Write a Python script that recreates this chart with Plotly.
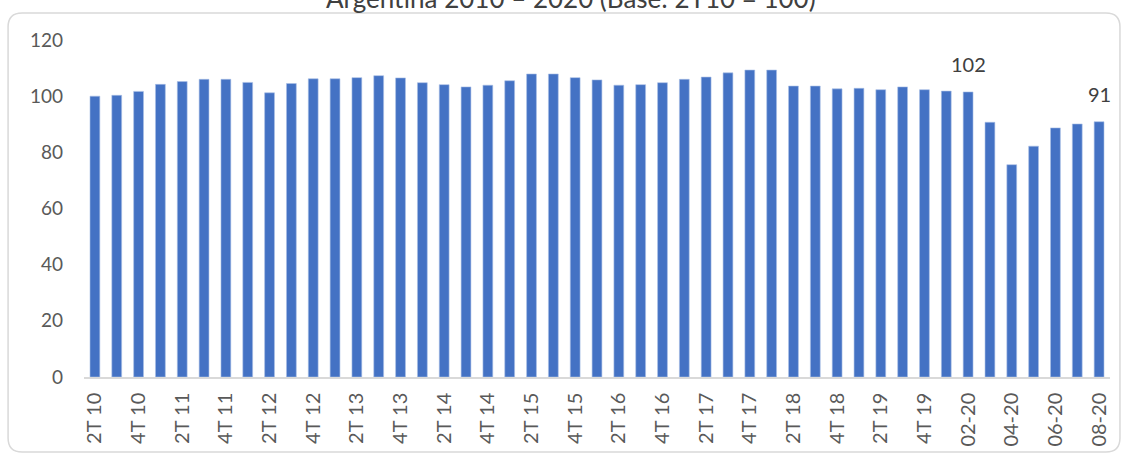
import plotly.graph_objects as go

# categories: quarters 2T10..4T19, then months 01-20..08-20
quarters = [f"{q}T {y}" for y in range(10, 20) for q in (1, 2, 3, 4)][1:]
months = ["01-20", "02-20", "03-20", "04-20", "05-20", "06-20", "07-20", "08-20"]
categories = quarters + months

values = [
    100.0, 100.3, 101.7, 104.2, 105.2, 106.0, 106.0, 104.9, 101.2, 104.5,
    106.2, 106.2, 106.6, 107.3, 106.5, 104.8, 104.1, 103.3, 103.9, 105.5,
    107.9, 107.9, 106.6, 105.8, 103.9, 104.1, 104.8, 106.0, 106.8, 108.3,
    109.3, 109.3, 103.6, 103.6, 102.6, 102.8, 102.3, 103.3, 102.3, 101.8,
    101.5, 90.7, 75.6, 82.2, 88.7, 90.1, 90.9,
]

# only two bars carry a value label
labelled = {"02-20": "102", "08-20": "91"}

tick_labels = categories[::2]
y_ticks = [0, 20, 40, 60, 80, 100, 120]

font = "Lato, 'Open Sans', sans-serif"

fig = go.Figure(
    go.Bar(
        x=categories,
        y=values,
        marker=dict(color="#4472C4", line=dict(color="#a9bfe6", width=0.6)),
        hoverinfo="x+y",
    )
)

for cat, txt in labelled.items():
    fig.add_annotation(
        x=cat, y=values[categories.index(cat)], text=txt,
        showarrow=False, yanchor="bottom", yshift=14,
        font=dict(family=font, size=20, color="#404040"),
    )

# title sits above the chart frame and is partly cut by the page edge
fig.add_annotation(
    x=0.4747, y=1.071, xref="paper", yref="paper",
    text="Argentina 2010 – 2020 (Base: 2T10 = 100)",
    showarrow=False, xanchor="center", yanchor="bottom",
    font=dict(family=font, size=26, color="#404040"),
)

# rounded chart frame (paper units differ in x and y, so two radii)
x0, x1, y0, y1 = -0.074, 1.0097, -0.2226, 1.08
rx, ry = 14 / 1026, 14 / 337
frame = (
    f"M {x0+rx},{y1} L {x1-rx},{y1} Q {x1},{y1} {x1},{y1-ry} "
    f"L {x1},{y0+ry} Q {x1},{y0} {x1-rx},{y0} "
    f"L {x0+rx},{y0} Q {x0},{y0} {x0},{y0+ry} "
    f"L {x0},{y1-ry} Q {x0},{y1} {x0+rx},{y1} Z"
)
fig.add_shape(type="path", path=frame, xref="paper", yref="paper",
              line=dict(color="#d9d9d9", width=1.5), layer="below")

fig.update_layout(
    width=1123,
    height=457,
    margin=dict(l=84, r=13, t=40, b=80),
    paper_bgcolor="white",
    plot_bgcolor="white",
    bargap=0.55,
    showlegend=False,
    font=dict(family=font, size=19, color="#595959"),
    xaxis=dict(
        type="category",
        tickmode="array",
        tickvals=tick_labels,
        ticktext=tick_labels,
        tickangle=-90,
        tickfont=dict(size=20),
        showline=True,
        linecolor="#d9d9d9",
        linewidth=1.5,
        ticks="",
        showgrid=False,
        ticklabelstandoff=6,
        automargin=False,
        range=[-0.5, len(categories) - 0.5],
    ),
    yaxis=dict(
        range=[0, 120],
        tickvals=y_ticks,
        showgrid=False,
        zeroline=False,
        showline=False,
        ticks="",
        ticklabelstandoff=20,
        automargin=False,
    ),
)

# drop the default 8px page margin so the figure sits at the window corner
fig.write_html(
    "out.html",
    config={"displayModeBar": False},
    post_script="document.body.style.margin='0';",
)
